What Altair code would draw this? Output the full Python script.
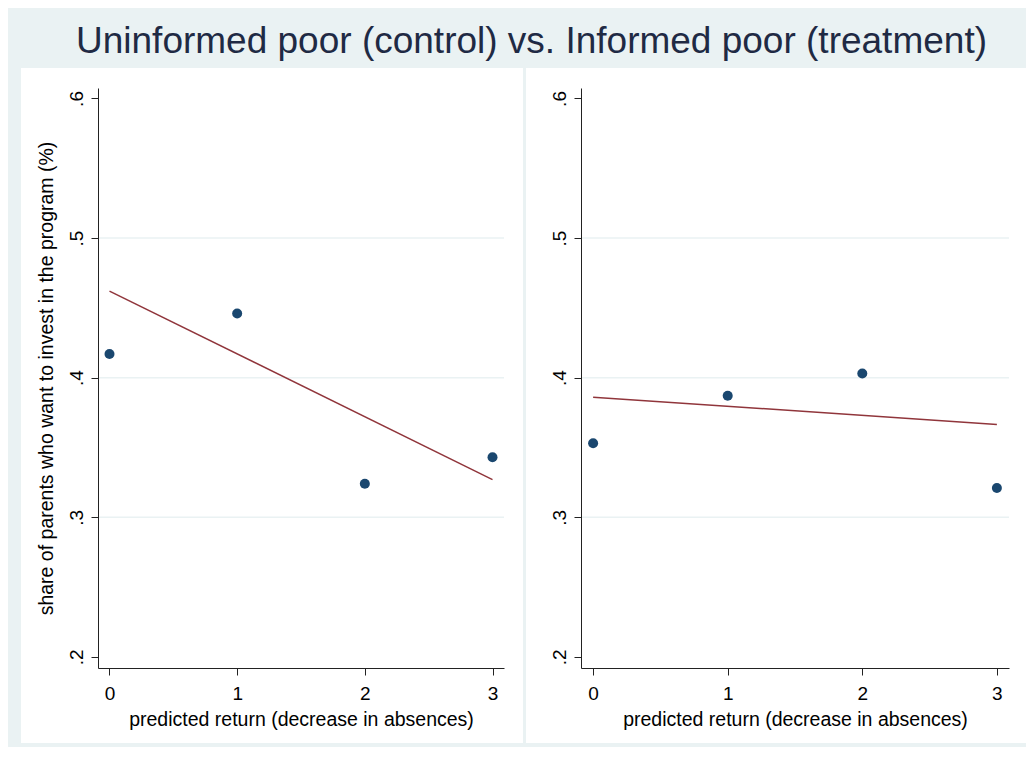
import altair as alt
import pandas as pd

# ---- data ----
x_vals = [0, 1, 2, 3]
control_share = [0.417, 0.446, 0.324, 0.343]
treatment_share = [0.353, 0.387, 0.403, 0.321]
fit_x = [0, 3]
control_fit = [0.462, 0.327]
treatment_fit = [0.386, 0.3665]
y_ticks = [0.2, 0.3, 0.4, 0.5, 0.6]
grid_vals = [0.3, 0.4, 0.5]
x_ticks = [0, 1, 2, 3]

title_text = "Uninformed poor (control) vs. Informed poor (treatment)"
y_title = "share of parents who want to invest in the program (%)"
x_title = "predicted return (decrease in absences)"

FONT = "Liberation Sans"
H = 580
W_L = 406
W_R = 428
BG = "#EAF2F3"
Y_DOMAIN = [0.192, 0.6075]
X_DOMAIN = [-0.09, 3.09]
PT_COLOR = "#1a476f"
LN_COLOR = "#90353b"
AX_COLOR = "#222222"


def panel(share, fit, width, with_title, left_ext, right_ext):
    pts = pd.DataFrame({"x": x_vals, "y": share})
    fit_df = pd.DataFrame({"x": fit_x, "y": fit})
    grid_df = pd.DataFrame({"y": grid_vals})

    x_axis = alt.Axis(
        values=x_ticks, format="d", grid=False, tickSize=7, tickColor=AX_COLOR,
        domainColor=AX_COLOR, domainWidth=1, labelFontSize=19, labelFont=FONT,
        labelColor="#000000", labelBaseline="alphabetic", labelPadding=24.5,
        labelFlush=False, labelOverlap=False,
        titleFont=FONT, titleFontSize=19.5, titleFontWeight="normal",
        titleColor="#000000", titleBaseline="alphabetic", titleAlign="center",
        titleX=width / 2, titleY=57, zindex=1,
    )
    y_axis_kw = dict(
        values=y_ticks, labelExpr="'.' + format(datum.value * 10, '.0f')",
        grid=False, tickSize=7, tickColor=AX_COLOR, domainColor=AX_COLOR,
        domainWidth=1, labelFontSize=19, labelFont=FONT, labelColor="#000000",
        labelAngle=270, labelAlign="center", labelBaseline="alphabetic",
        labelPadding=9, labelOverlap=False, zindex=1,
    )
    if with_title:
        y_axis = alt.Axis(
            titleFont=FONT, titleFontSize=19.5, titleFontWeight="normal",
            titleColor="#000000", titleAngle=270, titleBaseline="alphabetic",
            titleAlign="center", titleX=-46, titleY=H / 2, **y_axis_kw,
        )
        y_enc = alt.Y("y:Q", scale=alt.Scale(domain=Y_DOMAIN, nice=False, zero=False),
                      axis=y_axis, title=y_title)
    else:
        y_axis = alt.Axis(**y_axis_kw)
        y_enc = alt.Y("y:Q", scale=alt.Scale(domain=Y_DOMAIN, nice=False, zero=False),
                      axis=y_axis, title=None)
    x_enc = alt.X("x:Q", scale=alt.Scale(domain=X_DOMAIN, nice=False, zero=False),
                  axis=x_axis, title=x_title)

    bg = alt.Chart(alt.Data(values=[{"a": 1}])).mark_rect(color="white").encode(
        x=alt.value(-left_ext), x2=alt.value(width + right_ext),
        y=alt.value(-20), y2=alt.value(H + 75),
    )
    grid = alt.Chart(grid_df).mark_rule(color=BG, strokeWidth=1.5).encode(y=y_enc)
    line = alt.Chart(fit_df).mark_line(color=LN_COLOR, strokeWidth=1.5).encode(x=x_enc, y=y_enc)
    dots = alt.Chart(pts).mark_circle(color=PT_COLOR, opacity=1, size=100).encode(x=x_enc, y=y_enc)
    return alt.layer(bg, grid, line, dots).properties(width=width, height=H)


left = panel(control_share, control_fit, W_L, True, 77, 19)
right = panel(treatment_share, treatment_fit, W_R, False, 55, 17)

chart = alt.hconcat(left, right, spacing=3).properties(
    title=alt.TitleParams(
        text=title_text, fontSize=37, font=FONT, fontWeight="normal",
        color="#1f2a44", anchor="middle", baseline="alphabetic", offset=-22, dx=8,
    ),
    background=BG,
    padding={"left": 13, "top": 15, "right": 0, "bottom": 4},
).configure_view(stroke=None)

chart.save("out.html", embed_options={"renderer": "svg", "actions": False})
